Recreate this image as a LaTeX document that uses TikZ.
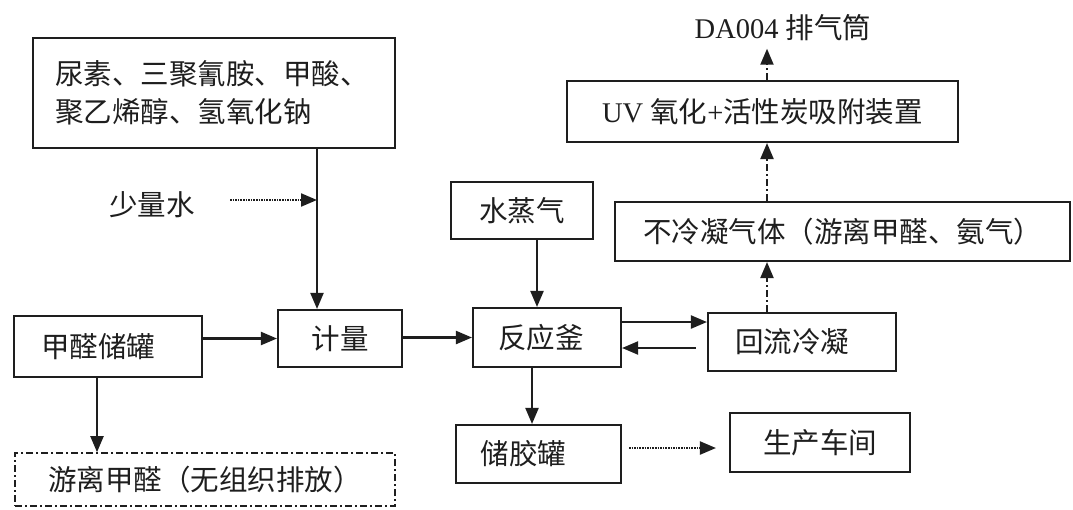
\documentclass[tikz,border=0pt]{standalone}
\usepackage{fontspec}
\setmainfont{Liberation Serif}
\newfontfamily\cjk{Noto Sans CJK SC}
\usetikzlibrary{arrows.meta,calc}
\definecolor{ink}{HTML}{1E1E1E}
\begin{document}
\begin{tikzpicture}[x=1pt,y=-1pt,
  every node/.style={font=\cjk\fontsize{28.5}{38}\selectfont, text=ink},
  box/.style={draw=ink, line width=2.1pt, inner sep=0pt, align=center},
  arr/.style={draw=ink, line width=2.1pt, -{Triangle[length=16pt,width=13pt]}},
  dotarr/.style={arr, dash pattern=on 1.6pt off 1pt},
  dasharr/.style={arr, dash pattern=on 7pt off 3pt on 2pt off 3pt},
  dashbox/.style={box, line width=1.6pt, dash pattern=on 7pt off 3pt on 2pt off 3pt}]
\useasboundingbox (0,0) rectangle (1073,509);
\fill[white] (0,0) rectangle (1073,509);

% nodes
\node[box, minimum width=362pt, minimum height=110pt, text width=318pt, align=left]
  (raw) at (214,93) {尿素、三聚氰胺、甲酸、\\聚乙烯醇、氢氧化钠};
\node (shao) at (152,205) {少量水};
\node[box, minimum width=124pt, minimum height=57pt] (jl) at (340,338.5) {计量};
\node[box, minimum width=188pt, minimum height=61pt] (jq) at (108,346.5) {\hspace*{-20pt}甲醛储罐};
\node[dashbox, minimum width=380pt, minimum height=53pt] (yl) at (205,479.5) {游离甲醛（无组织排放）};
\node[box, minimum width=148pt, minimum height=59pt] (fy) at (547,337.5) {\hspace*{-12pt}反应釜};
\node[box, minimum width=142pt, minimum height=57pt] (sz) at (522,210.5) {水蒸气};
\node[box, minimum width=165pt, minimum height=58pt] (cj) at (538.5,454) {\hspace*{-30pt}储胶罐};
\node[box, minimum width=180pt, minimum height=59pt] (sc) at (820,442.5) {生产车间};
\node[box, minimum width=188pt, minimum height=58pt] (hl) at (802,342) {\hspace*{-20pt}回流冷凝};
\node[box, minimum width=455pt, minimum height=59pt] (bl) at (842.5,231.5) {不冷凝气体（游离甲醛、氨气）};
\node[box, minimum width=391pt, minimum height=61pt] (uv) at (762.5,111.5) {{\rmfamily UV }氧化{\rmfamily +}活性炭吸附装置};
\node (da) at (783,28) {{\rmfamily DA004 }排气筒};

% helper coordinates
\coordinate (w) at (317,200);
\coordinate (ws) at (230,200);
\coordinate (vx) at (767,0);
\coordinate (fx) at (97,0);
\coordinate (rx) at (532,0);
\coordinate (sx) at (537,0);

% connectors
\draw[dotarr] (ws) -- (w);
\draw[draw=ink, line width=2.1pt] (raw.south -| w) -- (w);
\draw[arr] (w) -- (jl.north -| w);
\draw[arr] (jq.east |- jl.west) -- (jl.west);
\draw[arr] (jq.south -| fx) -- (yl.north -| fx);
\draw[arr] (jl.east |- fy.west) -- (fy.west);
\draw[arr] (sz.south -| sx) -- (fy.north -| sx);
\draw[arr] (fy.south -| rx) -- (cj.north -| rx);
\coordinate (f1) at ([yshift=15.5pt]fy.east);
\draw[arr] (f1) -- (f1 -| hl.west);
\coordinate (f2) at ([yshift=-10.5pt]fy.east);
\path (f2 -| hl.west) coordinate (h2);
\draw[arr] ([xshift=-11pt]h2) -- (f2);
\coordinate (c1) at ([xshift=7pt,yshift=6pt]cj.east);
\path (c1 -| sc.west) coordinate (s1);
\draw[dotarr] (c1) -- ([xshift=-13pt]s1);
\draw[dasharr] (hl.north -| vx) -- (bl.south -| vx);
\draw[dasharr] (bl.north -| vx) -- (uv.south -| vx);
\draw[dasharr] (uv.north -| vx) -- ([yshift=-4pt]da.south -| vx);
\end{tikzpicture}
\end{document}
